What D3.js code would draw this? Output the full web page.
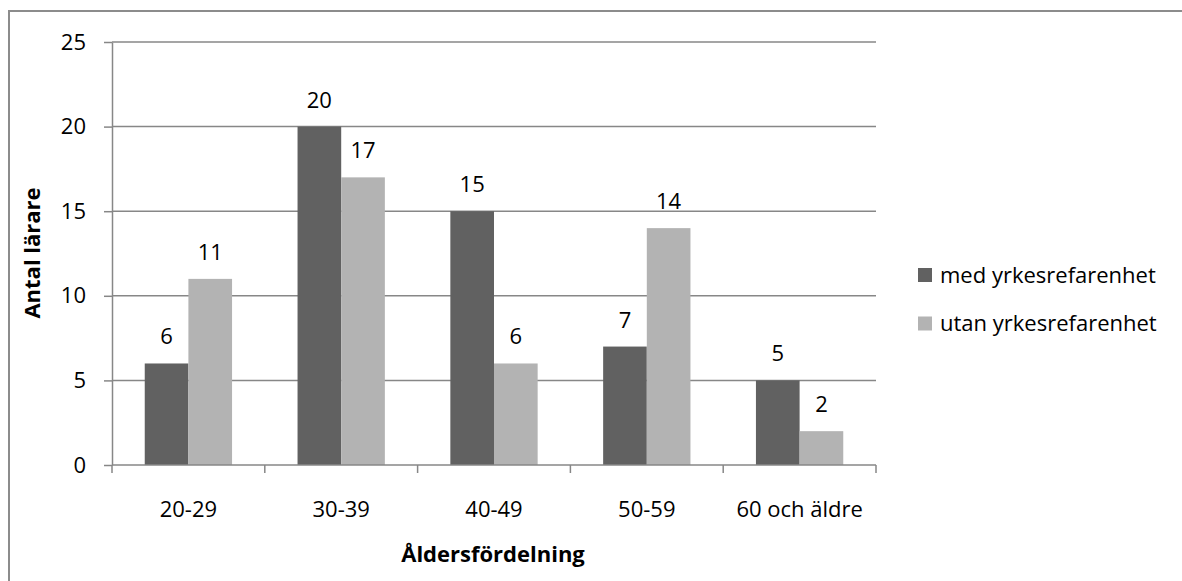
<!DOCTYPE html>
<html>
<head>
<meta charset="utf-8">
<script src="https://cdn.jsdelivr.net/npm/d3@7"></script>
<style>
  html, body { margin: 0; padding: 0; background: #fff; }
  svg { display: block; }
  text { font-family: "Open Sans", "Noto Sans", sans-serif; fill: #000; }
</style>
</head>
<body>
<svg id="chart" width="1182" height="581"></svg>
<script>
// Age groups and teacher counts for each series
const categories = ["20-29", "30-39", "40-49", "50-59", "60 och äldre"];
const seriesNames = ["med yrkesrefarenhet", "utan yrkesrefarenhet"];
const medValues = [6, 20, 15, 7, 5];
const utanValues = [11, 17, 6, 14, 2];
const yTicks = [0, 5, 10, 15, 20, 25];

const colors = ["#616161", "#b3b3b3"];
const gridColor = "#878787";
const fontSize = "22px";

const svg = d3.select("#chart");

// Outer frame
svg.append("rect")
  .attr("x", 9).attr("y", 11)
  .attr("width", 1200).attr("height", 600)
  .attr("fill", "none")
  .attr("stroke", "#8c8c8c")
  .attr("stroke-width", 2);

const plot = { left: 112, right: 876, top: 42, bottom: 465 };

const y = d3.scaleLinear().domain([0, 25]).range([plot.bottom, plot.top]);

// Gap between groups is 1.5 bar widths
const gap = 1.5 / 3.5;
const x0 = d3.scaleBand().domain(categories)
  .range([plot.left, plot.right])
  .paddingInner(gap).paddingOuter(gap / 2);
const x1 = d3.scaleBand().domain(seriesNames).range([0, x0.bandwidth()]);

// Horizontal gridlines
svg.append("g")
  .selectAll("line")
  .data(yTicks.filter(t => t > 0))
  .join("line")
  .attr("x1", plot.left).attr("x2", plot.right)
  .attr("y1", d => y(d)).attr("y2", d => y(d))
  .attr("stroke", gridColor).attr("stroke-width", 1.5);

// Y axis
const yAxis = svg.append("g")
  .attr("transform", `translate(${plot.left},0)`)
  .call(d3.axisLeft(y).tickValues(yTicks).tickSize(8).tickPadding(18).tickSizeOuter(0));
yAxis.select(".domain").attr("stroke", gridColor).attr("stroke-width", 1.5);
yAxis.selectAll(".tick line").attr("stroke", gridColor).attr("stroke-width", 1.5);
yAxis.selectAll(".tick text")
  .style("font-family", "'Open Sans', sans-serif")
  .style("font-size", fontSize).attr("fill", "#000");

// Bars
const data = categories.map((c, i) => ({ cat: c, values: [medValues[i], utanValues[i]] }));
const groups = svg.append("g").selectAll("g")
  .data(data)
  .join("g")
  .attr("transform", d => `translate(${x0(d.cat)},0)`);

groups.selectAll("rect")
  .data(d => d.values.map((v, j) => ({ name: seriesNames[j], v, j })))
  .join("rect")
  .attr("x", d => x1(d.name))
  .attr("y", d => y(d.v))
  .attr("width", x1.bandwidth())
  .attr("height", d => y(0) - y(d.v))
  .attr("fill", d => colors[d.j]);

// Value labels
groups.selectAll("text")
  .data(d => d.values.map((v, j) => ({ name: seriesNames[j], v, j })))
  .join("text")
  .attr("x", d => x1(d.name) + x1.bandwidth() / 2)
  .attr("y", d => y(d.v) - 19)
  .attr("text-anchor", "middle")
  .style("font-size", fontSize)
  .text(d => d.v);

// X axis
const xTickScale = d3.scaleLinear().domain([0, categories.length]).range([plot.left, plot.right]);
const xAxis = svg.append("g")
  .attr("transform", `translate(0,${plot.bottom})`);
xAxis.append("line")
  .attr("x1", plot.left).attr("x2", plot.right)
  .attr("stroke", gridColor).attr("stroke-width", 1.5);
xAxis.selectAll("line.tick")
  .data(d3.range(categories.length + 1))
  .join("line")
  .attr("class", "tick")
  .attr("x1", d => xTickScale(d)).attr("x2", d => xTickScale(d))
  .attr("y1", 0).attr("y2", 8)
  .attr("stroke", gridColor).attr("stroke-width", 1.5);
xAxis.selectAll("text")
  .data(categories)
  .join("text")
  .attr("x", d => x0(d) + x0.bandwidth() / 2)
  .attr("y", 52)
  .attr("text-anchor", "middle")
  .style("font-size", fontSize)
  .text(d => d);

// Axis titles
svg.append("text")
  .attr("transform", `translate(40,253) rotate(-90)`)
  .attr("text-anchor", "middle")
  .style("font-size", fontSize).style("font-weight", "bold")
  .text("Antal lärare");

svg.append("text")
  .attr("x", 493).attr("y", 562)
  .attr("text-anchor", "middle")
  .style("font-size", fontSize).style("font-weight", "bold")
  .text("Åldersfördelning");

// Legend
const legend = svg.append("g").attr("transform", "translate(918,268)");
const items = legend.selectAll("g")
  .data(seriesNames)
  .join("g")
  .attr("transform", (d, i) => `translate(0,${i * 48.5})`);
items.append("rect")
  .attr("width", 14).attr("height", 14)
  .attr("fill", (d, i) => colors[i]);
items.append("text")
  .attr("x", 22).attr("y", 14.5)
  .style("font-size", fontSize)
  .text(d => d);
</script>
</body>
</html>
